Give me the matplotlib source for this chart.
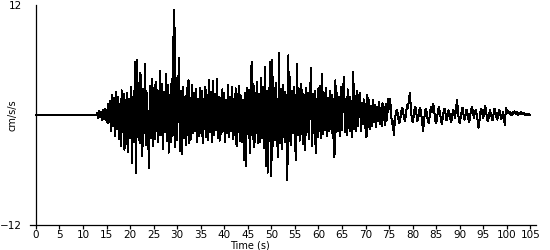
import numpy as np
import matplotlib
matplotlib.use("Agg")
import matplotlib.pyplot as plt

# acceleration record, cm/s/s, sampled every 0.2 s
dt = 0.2
quiet = [0.0] * 65  # 0 - 13 s, before the first arrival
acc = quiet + [
    0.2, -0.3, 0.4, -0.2, 0.3,      # 13
    -0.5, 0.6, -0.4, 0.7, -0.6,     # 14
    0.5, -0.9, 1.2, -0.8, 1.5,      # 15
    -1.8, 2.2, -1.2, 1.9, -2.3,     # 16
    2.5, -1.5, 2.0, -2.6, 1.2,      # 17
    -3.4, 2.7, -1.9, 2.3, -3.8,     # 18
    1.6, -3.2, 2.4, -4.0, 1.8,      # 19
    -2.5, 3.1, -5.2, 2.0, -3.0,     # 20
    5.8, -6.3, 6.0, -2.4, 3.5,      # 21
    -3.1, 4.6, -2.2, -4.5, 2.8,     # 22
    -2.0, 5.6, -3.3, 2.4, -1.6,     # 23
    -5.8, 3.2, -2.5, 3.9, -3.4,     # 24
    2.9, -2.6, 3.6, -1.8, 2.7,      # 25
    -3.0, 2.1, 4.8, -2.2, 3.4,      # 26
    -3.7, 2.5, -1.9, 4.5, -2.8,     # 27
    3.3, -4.1, 2.2, -3.0, 3.9,      # 28
    -2.3, 8.4, 11.5, -3.5, 4.0,     # 29
    -2.7, 3.2, 6.2, -3.9, 2.6,      # 30
    -4.3, 3.1, -2.5, 2.0, -3.3,     # 31
    2.9, -2.2, 3.8, -3.1, 1.9,      # 32
    -2.6, 3.3, -2.0, 2.4, -1.8,     # 33
    2.8, -2.9, 1.7, -2.3, 3.0,      # 34
    -2.0, 2.6, -3.1, 1.8, -1.5,     # 35
    3.1, -2.4, 2.2, -2.7, 3.8,      # 36
    -1.9, 2.5, -3.0, 3.7, -2.2,     # 37
    2.3, -1.6, 3.9, -2.5, 2.0,      # 38
    -2.8, 1.9, -2.1, 2.8, -1.7,     # 39
    2.4, -2.9, 1.6, -2.0, 3.3,      # 40
    -2.4, 2.0, -1.8, 3.1, -2.6,     # 41
    1.8, -2.2, 2.9, -3.4, 2.3,      # 42
    -1.9, 3.2, -2.8, 2.1, -3.0,     # 43
    1.6, -4.9, 2.4, -5.6, 3.0,      # 44
    -2.1, 2.7, -4.2, 1.9, 5.8,      # 45
    -2.6, 3.4, -3.5, 2.4, -2.0,     # 46
    3.6, -3.1, 2.3, -2.9, 4.0,      # 47
    -2.5, 3.1, -3.6, 5.2, -5.6,     # 48
    2.6, -6.3, 3.0, -2.8, 5.8,      # 49
    -6.7, 6.0, -3.4, 2.9, -2.7,     # 50
    3.5, -2.3, -4.6, 6.8, -3.1,     # 51
    2.8, -3.7, 3.3, -2.4, 2.5,      # 52
    -3.0, 2.2, -7.1, 6.5, -2.8,     # 53
    4.2, -3.3, 2.6, -2.0, 3.1,      # 54
    -2.5, -4.9, 5.6, -2.2, 2.9,     # 55
    -2.8, 3.4, -2.1, 2.7, -3.2,     # 56
    2.2, -3.8, 3.0, -1.9, 2.4,      # 57
    -2.6, 1.8, 5.1, -3.4, 2.3,      # 58
    -2.0, 2.6, -4.2, 1.7, -2.4,     # 59
    2.9, -1.8, 3.2, -2.5, 4.5,      # 60
    -2.1, 2.4, -1.6, 3.0, -2.3,     # 61
    1.9, -1.8, 2.6, -1.5, 2.2,      # 62
    -2.5, 1.8, -4.6, 3.8, -1.9,     # 63
    2.4, -1.7, 2.0, -2.3, 3.1,      # 64
    -1.6, 2.3, 4.2, -1.9, 1.7,      # 65
    -2.2, 2.8, -1.4, 2.0, -1.8,     # 66
    1.5, -2.4, 4.7, -1.5, 2.1,      # 67
    -1.7, 2.6, -1.2, 1.9, 2.4,      # 68
    -1.8, 1.3, -1.0, 1.7, -1.4,     # 69
    1.2, -2.4, 2.2, -1.3, 1.6,      # 70
    -1.5, 1.0, -1.2, 1.6, -0.8,     # 71
    1.1, -1.3, 0.9, -0.7, 1.4,      # 72
    -1.0, 0.8, -1.2, 1.3, -0.6,     # 73
    0.9, -1.1, 1.2, -0.5, 1.8,      # 74
    0.6, 1.8, 0.4, -1.0, -0.6,      # 75
    -2.2, -0.8, 0.1, 0.6, 0.2,      # 76
    -0.5, -0.9, -0.3, 0.4, 0.8,     # 77
    0.3, -0.4, -0.7, 0.2, 1.1,      # 78
    0.8, 1.5, 2.4, 1.0, -0.3,       # 79
    -0.8, -0.2, 0.6, 0.9, 0.1,      # 80
    -0.7, -0.3, 0.5, 0.8, 0.2,      # 81
    -0.6, -1.8, -0.7, 0.3, 0.7,     # 82
    0.2, -0.5, -0.9, -0.2, 0.6,     # 83
    0.9, 0.3, 1.2, 0.4, -0.6,       # 84
    -0.9, -0.2, 0.5, 0.9, 0.2,      # 85
    -0.5, -1.0, -0.3, 0.4, 0.7,     # 86
    0.1, -0.6, -0.2, 0.5, 0.3,      # 87
    -0.4, -0.8, -0.1, 0.6, 0.2,     # 88
    -0.3, 0.5, 1.6, 0.7, -0.5,      # 89
    -0.9, -0.3, 0.4, 0.8, 0.1,      # 90
    -0.5, -0.2, 0.6, 0.3, -0.4,     # 91
    -0.8, -0.2, 0.5, 0.9, 0.3,      # 92
    -0.3, 0.2, 0.6, 0.1, -0.6,      # 93
    -1.4, -0.5, 0.3, 0.7, 0.2,      # 94
    -0.3, 0.4, 1.0, 0.5, -0.4,      # 95
    -0.7, -0.1, 0.5, 0.2, -0.3,     # 96
    -0.6, 0.1, 0.7, 0.3, -0.2,      # 97
    -0.5, 0.2, 0.6, 0.1, -0.4,      # 98
    -0.2, 0.3, -0.4, -1.1, 0.8,     # 99
    0.5, 0.2, 0.4, 0.1, 0.3,        # 100
    0.0, 0.3, 0.1, 0.4, 0.2,        # 101
    0.1, 0.3, 0.0, 0.2, 0.1,        # 102
    0.3, 0.1, 0.2, 0.2, 0.0,        # 103
    0.1, 0.1, 0.0, 0.1, 0.0,        # 104
    0.0,                            # 105
]
t = np.arange(len(acc)) * dt

x_ticks = list(range(0, 106, 5))
y_ticks = [-12, 12]

fig = plt.figure(figsize=(5.5, 2.5), dpi=100)
ax = fig.add_axes([30.3 / 550, 25 / 250, (536 - 30.3) / 550, 220 / 250])

ax.plot(t, acc, color="black", lw=0.72, antialiased=False)

ax.set_xlim(-1.2, 106.2)
ax.set_ylim(-12, 12)
ax.spines["top"].set_visible(False)
ax.spines["right"].set_visible(False)
ax.spines["left"].set_position(("data", 0))
ax.spines["left"].set_bounds(-12, 12)
for s in ("left", "bottom"):
    ax.spines[s].set_linewidth(0.9)

ax.set_xticks(x_ticks)
ax.set_yticks(y_ticks)
ax.tick_params(axis="x", direction="out", length=3, width=0.9, labelsize=7.5, pad=0.5)
ax.tick_params(axis="y", length=0, labelsize=7.5, pad=10)

ax.set_ylabel("cm/s/s", fontsize=7)
ax.yaxis.set_label_coords(-0.026, 0.5)
fig.text(250 / 550, 1 - 245 / 250, "Time (s)", ha="center", va="center", fontsize=7)

fig.savefig("out.png", dpi=100)
